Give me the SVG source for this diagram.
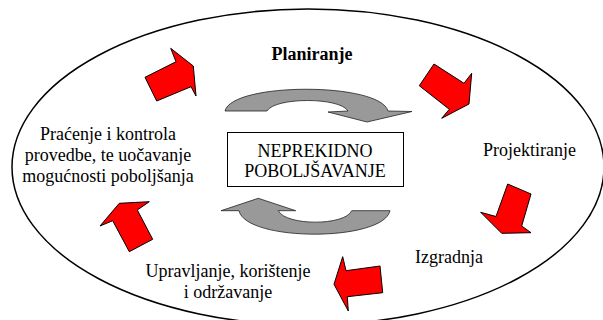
<svg xmlns="http://www.w3.org/2000/svg" width="603" height="320" viewBox="0 0 603 320">
<style>
.t{font-family:"Liberation Serif","Times New Roman",serif;font-size:18px;fill:#000}
.b{font-weight:bold}
.red{fill:#ff0000;stroke:#000;stroke-width:1;stroke-linejoin:miter}
.grey{fill:#999999;stroke:#222;stroke-width:0.8}
</style>
<rect width="603" height="320" fill="#fff"/>
<g id="ellipse"><ellipse cx="308" cy="167" rx="296" ry="158" fill="none" stroke="#000" stroke-width="1.5"/></g>
<g id="planiranje"><text class="t b" x="312" y="60" text-anchor="middle">Planiranje</text></g>
<g id="projektiranje"><text class="t" x="483" y="156">Projektiranje</text></g>
<g id="izgradnja"><text class="t" x="415" y="263">Izgradnja</text></g>
<g id="upravljanje"><text class="t" x="228" y="277" text-anchor="middle">Upravljanje, korištenje</text><text class="t" x="228" y="298" text-anchor="middle">i održavanje</text></g>
<g id="pracenje"><text class="t" x="108" y="140" text-anchor="middle">Praćenje i kontrola</text><text class="t" x="108" y="161" text-anchor="middle">provedbe, te uočavanje</text><text class="t" x="108" y="182" text-anchor="middle">mogućnosti poboljšanja</text></g>
<g id="center"><rect x="227.5" y="132.5" width="176" height="54" fill="#fff" stroke="#000" stroke-width="1"/><text class="t" x="315" y="156.5" text-anchor="middle">NEPREKIDNO</text><text class="t" x="315" y="177" text-anchor="middle">POBOLJŠAVANJE</text></g>
<g id="connectors">
<polygon class="red" points="145,77.3 156.7,101 191,86.7 196,96 193.3,66 170.7,48.3 176,61.7"/>
<polygon class="red" points="434,64 419.3,85.7 449.3,109.3 441.7,118.3 469,104 471.7,73.3 464,83.3"/>
<polygon class="red" points="507.7,184 531,194 521.7,226 531,232.7 501.7,233.3 480.7,212.3 496,216.5"/>
<polygon class="red" points="334,284.3 342.7,256.7 346,270.7 380,266 382.7,292.7 347.3,296.7 348.3,311"/>
<polygon class="red" points="119.3,203.3 149.3,201.7 137.3,210 152.7,239.3 129.3,251.7 112.7,220.7 100,226"/>
<path class="grey" d="M225,111 C232,82 380,82 388,111 L412,111.5 L367,122 L328,112 L348,111 C340,97 275,97 267,111 Z"/>
<path class="grey" d="M221,210.7 L258.3,198.3 L295.7,210.7 L278.3,210.7 C286,226 345,226 351.7,210.7 L390,210.7 C383,242 246,242 239,210.7 Z"/>
</g>
</svg>
